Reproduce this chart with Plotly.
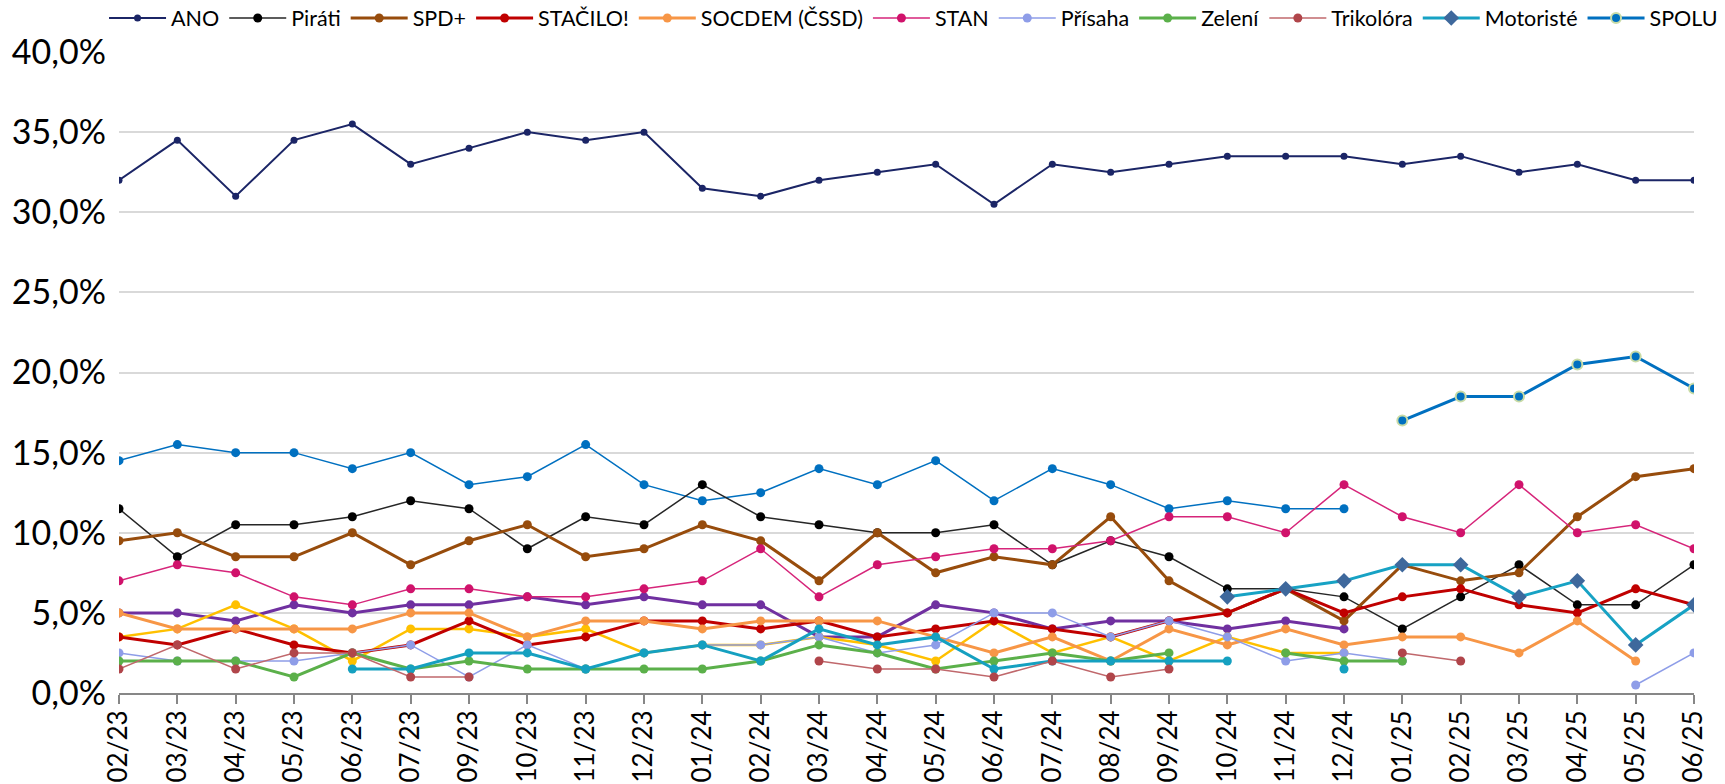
import plotly.graph_objects as go

categories = ["02/23", "03/23", "04/23", "05/23", "06/23", "07/23", "09/23", "10/23",
              "11/23", "12/23", "01/24", "02/24", "03/24", "04/24", "05/24", "06/24",
              "07/24", "08/24", "09/24", "10/24", "11/24", "12/24", "01/25", "02/25",
              "03/25", "04/25", "05/25", "06/25"]

N = None
ano = [32, 34.5, 31, 34.5, 35.5, 33, 34, 35, 34.5, 35, 31.5, 31, 32, 32.5, 33, 30.5,
       33, 32.5, 33, 33.5, 33.5, 33.5, 33, 33.5, 32.5, 33, 32, 32]
pirati = [11.5, 8.5, 10.5, 10.5, 11, 12, 11.5, 9, 11, 10.5, 13, 11, 10.5, 10, 10, 10.5,
          8, 9.5, 8.5, 6.5, 6.5, 6, 4, 6, 8, 5.5, 5.5, 8]
spd = [9.5, 10, 8.5, 8.5, 10, 8, 9.5, 10.5, 8.5, 9, 10.5, 9.5, 7, 10, 7.5, 8.5,
       8, 11, 7, 5, 6.5, 4.5, 8, 7, 7.5, 11, 13.5, 14]
stacilo = [3.5, 3, 4, 3, 2.5, 3, 4.5, 3, 3.5, 4.5, 4.5, 4, 4.5, 3.5, 4, 4.5,
           4, 3.5, 4.5, 5, 6.5, 5, 6, 6.5, 5.5, 5, 6.5, 5.5]
socdem = [5, 4, 4, 4, 4, 5, 5, 3.5, 4.5, 4.5, 4, 4.5, 4.5, 4.5, 3.5, 2.5,
          3.5, 2, 4, 3, 4, 3, 3.5, 3.5, 2.5, 4.5, 2, N]
stan = [7, 8, 7.5, 6, 5.5, 6.5, 6.5, 6, 6, 6.5, 7, 9, 6, 8, 8.5, 9,
        9, 9.5, 11, 11, 10, 13, 11, 10, 13, 10, 10.5, 9]
prisaha = [2.5, 2, 2, 2, 2.5, 3, 1, 3, 1.5, 2.5, 3, 3, 3.5, 2.5, 3, 5,
           5, 3.5, 4.5, 3.5, 2, 2.5, 2, N, N, N, 0.5, 2.5]
zeleni = [2, 2, 2, 1, 2.5, 1.5, 2, 1.5, 1.5, 1.5, 1.5, 2, 3, 2.5, 1.5, 2,
          2.5, 2, 2.5, N, 2.5, 2, 2, N, N, N, N, N]
trikolora = [1.5, 3, 1.5, 2.5, 2.5, 1, 1, N, N, N, N, N, 2, 1.5, 1.5, 1,
             2, 1, 1.5, N, N, N, 2.5, 2, N, N, N, N]
motoriste = [N] * 19 + [6, 6.5, 7, 8, 8, 6, 7, 3, 5.5]
spolu = [N] * 22 + [17, 18.5, 18.5, 20.5, 21, 19]
# series whose legend entries are cut off in the reference
ods = [14.5, 15.5, 15, 15, 14, 15, 13, 13.5, 15.5, 13, 12, 12.5, 14, 13, 14.5, 12,
       14, 13, 11.5, 12, 11.5, 11.5, N, N, N, N, N, N]
top09 = [5, 5, 4.5, 5.5, 5, 5.5, 5.5, 6, 5.5, 6, 5.5, 5.5, 3.5, 3.5, 5.5, 5,
         4, 4.5, 4.5, 4, 4.5, 4, N, N, N, N, N, N]
kdu = [3.5, 4, 5.5, 4, 2, 4, 4, 3.5, 4, 2.5, 3, 3, 3.5, 3, 2, 4.5,
       2.5, 3.5, 2, 3.5, 2.5, 2.5, N, N, N, N, N, N]
svobodni = [N, N, N, N, 1.5, 1.5, 2.5, 2.5, 1.5, 2.5, 3, 2, 4, 3, 3.5, 1.5,
            2, 2, 2, 2, N, 1.5, N, N, N, N, N, N]

FONT = "Lato"
fig = go.Figure()


def frac(vals):
    return [None if v is None else v / 100 for v in vals]


def add(name, vals, lcolor, lwidth, mcolor, msize, symbol="circle",
        mline=None, showlegend=True, rank=1000):
    fig.add_trace(go.Scatter(
        x=categories, y=frac(vals), name=name, mode="lines+markers",
        line=dict(color=lcolor, width=lwidth),
        marker=dict(color=mcolor, size=msize, symbol=symbol,
                    line=mline or dict(width=0)),
        connectgaps=False, showlegend=showlegend, legendrank=rank,
        hovertemplate="%{x}: %{y:.1%}<extra>" + name + "</extra>"))


add("ODS", ods, "#0070C0", 1.5, "#0070C0", 9, showlegend=False)
add("TOP 09", top09, "#7030A0", 3, "#7030A0", 9, showlegend=False)
add("KDU-ČSL", kdu, "#FFC000", 2.5, "#FFC000", 9, showlegend=False)
add("ANO", ano, "#1B2566", 2, "#1B2566", 7, rank=1)
add("Piráti", pirati, "#262626", 1.5, "#000000", 9, rank=2)
add("SPD+", spd, "#974C0C", 3, "#974C0C", 9, rank=3)
add("STAČILO!", stacilo, "#C00000", 3, "#C00000", 9, rank=4)
add("SOCDEM (ČSSD)", socdem, "#F79646", 3, "#F79646", 9, rank=5)
add("STAN", stan, "#D6257A", 1.5, "#D0126B", 9, rank=6)
add("Přísaha", prisaha, "#8E9DE8", 1.5, "#8E9DE8", 9, rank=7)
add("Zelení", zeleni, "#5BB04A", 3, "#5BB04A", 9, rank=8)
add("Svobodní", svobodni, "#15A0C0", 3, "#15A0C0", 9, showlegend=False)
add("Trikolóra", trikolora, "#C0686C", 1.5, "#B0454A", 9, rank=9)
add("Motoristé", motoriste, "#17A2C4", 3, "#3E689C", 12, symbol="diamond", rank=10)
add("SPOLU", spolu, "#0070C0", 3, "#0070C0", 10,
    mline=dict(color="#C8DBA6", width=2), rank=11)

fig.update_layout(
    width=1725, height=784,
    margin=dict(l=119, r=31, t=52, b=91, autoexpand=False),
    paper_bgcolor="white", plot_bgcolor="white",
    separators=", ",
    font=dict(family=FONT, color="#000000"),
    showlegend=True,
    legend=dict(orientation="h", x=-0.0095, xanchor="left", y=1.053, yanchor="middle",
                font=dict(size=21.5, family=FONT, color="#000000"),
                itemwidth=57, bgcolor="rgba(0,0,0,0)", borderwidth=0,
                traceorder="normal"),
    xaxis=dict(type="category", range=[0, 27], showgrid=False, zeroline=False,
               showline=True, linecolor="#878787", linewidth=2,
               ticks="outside", ticklen=9, tickwidth=2, tickcolor="#878787",
               tickangle=-90, tickfont=dict(size=26, family=FONT, color="#000000"),
               ticklabelstandoff=-4),
    yaxis=dict(range=[0, 0.4], tickvals=[i * 0.05 for i in range(9)],
               tickformat=".1%", showgrid=True, gridcolor="#D9D9D9", gridwidth=2,
               zeroline=False, showline=False, ticks="",
               tickfont=dict(size=34, family=FONT, color="#000000"),
               ticklabelstandoff=12),
)

fig.write_html("out.html",
               config={"displayModeBar": False},
               post_script="document.body.style.margin='0';"
                           "document.body.style.overflow='hidden';")
